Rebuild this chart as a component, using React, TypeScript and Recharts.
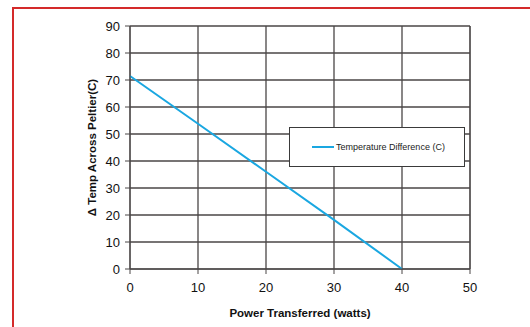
import React from "react";
import {
  LineChart,
  Line,
  XAxis,
  YAxis,
  CartesianGrid,
  Legend,
  Label,
} from "recharts";

const powerWatts = [0, 10, 20, 30, 40];
const tempDiff = [71.5, 53.8, 36.0, 18.2, 0];
const xTicks = [0, 10, 20, 30, 40, 50];
const yTicks = [0, 10, 20, 30, 40, 50, 60, 70, 80, 90];

const data = powerWatts.map((p, i) => ({ power: p, temp: tempDiff[i] }));

const FONT = "'Liberation Sans', Arial, sans-serif";
const GRID = "#4a4646";
const LINE = "#1aa7e1";

const LegendBox = () => (
  <div
    style={{
      width: 174,
      height: 38,
      border: "1px solid #3a3a3a",
      background: "#fff",
      display: "flex",
      alignItems: "center",
      fontFamily: FONT,
      fontSize: 9,
      color: "#222",
    }}
  >
    <span
      style={{
        display: "inline-block",
        width: 22,
        height: 2,
        background: LINE,
        marginLeft: 22,
        marginRight: 2,
      }}
    />
    <span>Temperature Difference (C)</span>
  </div>
);

export default function App() {
  return (
    <div
      style={{
        position: "absolute",
        left: 0,
        top: 0,
        width: 530,
        height: 327,
        overflow: "hidden",
        background: "#fff",
      }}
    >
      <div
        style={{
          position: "absolute",
          left: 12,
          top: 7,
          width: 540,
          height: 340,
          border: "2px solid #d42a2a",
        }}
      />
      <div style={{ position: "absolute", left: 0, top: 0 }}>
        <LineChart
          width={530}
          height={327}
          data={data}
          margin={{ top: 26, right: 50, left: 54, bottom: 0 }}
          style={{ fontFamily: FONT }}
        >
          <CartesianGrid yAxisId="l" stroke={GRID} strokeWidth={1.3} />
          <XAxis
            dataKey="power"
            type="number"
            domain={[0, 50]}
            ticks={xTicks}
            height={58}
            stroke={GRID}
            tickSize={5}
            tickMargin={9}
            tick={{ fill: "#111", fontSize: 13 }}
          >
            <Label
              value="Power Transferred (watts)"
              position="insideBottom"
              offset={10}
              style={{ fontWeight: "bold", fontSize: 11.5, fill: "#111" }}
            />
          </XAxis>
          <YAxis
            yAxisId="l"
            type="number"
            domain={[0, 90]}
            ticks={yTicks}
            width={76}
            stroke={GRID}
            tickSize={5}
            tickMargin={5}
            tick={{ fill: "#111", fontSize: 13 }}
          >
            <Label
              value="Δ Temp Across Peltier(C)"
              angle={-90}
              position="center"
              style={{ fontWeight: "bold", fontSize: 11.5, fill: "#111", textAnchor: "middle" }}
            />
          </YAxis>
          <YAxis
            yAxisId="r"
            orientation="right"
            type="number"
            domain={[0, 90]}
            ticks={yTicks}
            width={10}
            stroke={GRID}
            tickSize={5}
            tick={false}
          />
          <Legend
            layout="horizontal"
            verticalAlign="middle"
            align="center"
            wrapperStyle={{ left: 289, top: 127, width: 176, height: 40 }}
            content={() => <LegendBox />}
          />
          <Line
            yAxisId="l"
            dataKey="temp"
            name="Temperature Difference (C)"
            stroke={LINE}
            strokeWidth={2}
            dot={false}
            isAnimationActive={false}
          />
        </LineChart>
      </div>
    </div>
  );
}
